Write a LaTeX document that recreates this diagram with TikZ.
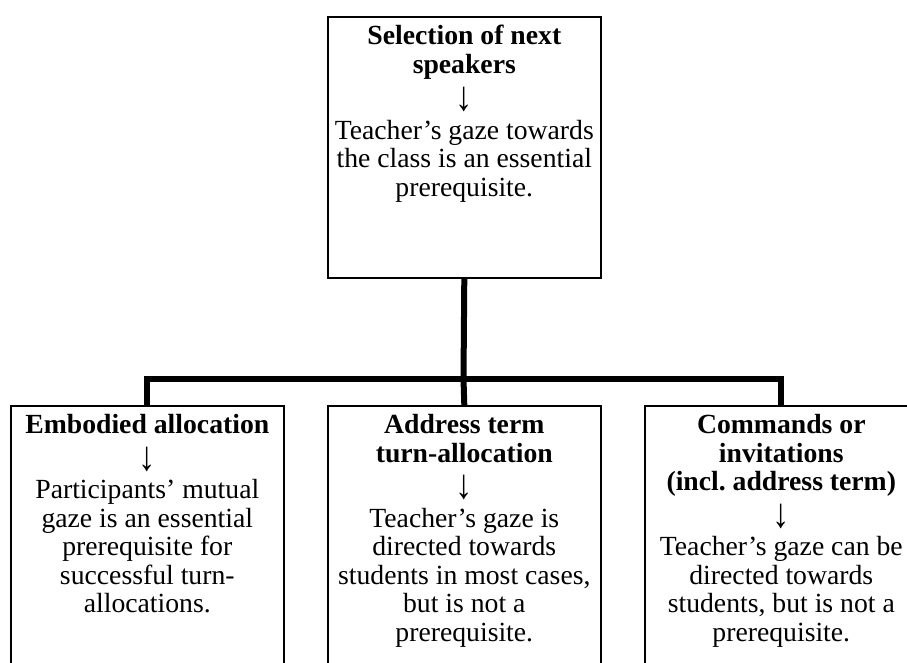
\documentclass[tikz,border=0pt]{standalone}
\usepackage{fontspec}
\setmainfont{Liberation Serif}
\frenchspacing
\newcommand{\downarr}{\raisebox{0pt}[0pt][0pt]{\scalebox{1.25}[1.5]{↓}}}
\begin{document}
\begin{tikzpicture}[x=1pt,y=-1pt,
  box/.style={draw=black, line width=1.6pt, fill=white, minimum width=273pt, inner sep=0pt, anchor=north west},
  txt/.style={align=center, inner sep=0pt, anchor=north, font=\fontsize{27.7}{28.5}\selectfont},
  conn/.style={draw=black, line width=6pt, line join=miter}]
\useasboundingbox (0,0) rectangle (907,662);
\clip (0,0) rectangle (907,662);
\fill[white] (0,0) rectangle (907,662);
% boxes
\node[box, minimum height=261pt] (top) at (327,16) {};
\node[box, minimum height=280pt] (b1) at (10,405) {};
\node[box, minimum height=280pt] (b2) at (327,405) {};
\node[box, minimum height=280pt] (b3) at (644,405) {};
% connectors
\coordinate (hub) at (463.5,379);
\draw[conn] (top.south) -- (hub);
\draw[conn] (b1.north) |- (hub) -| (b3.north);
\draw[conn] (hub) -- (b2.north);
% texts
\node[txt] (t0) at ([yshift=-8.4pt]top.north) {\strut\textbf{Selection of next}\\\textbf{speakers}\\[9pt]\downarr\\Teacher’s gaze towards\\the class is an essential\\prerequisite.};
\node[txt] (t1) at ([yshift=-8.4pt]b1.north) {\strut\textbf{Embodied allocation}\\[8pt]\downarr\\Participants’ mutual\\gaze is an essential\\prerequisite for\\successful turn-\\allocations.};
\node[txt] (t2) at ([yshift=-8.4pt]b2.north) {\strut\textbf{Address term}\\\textbf{turn-allocation}\\[8pt]\downarr\\Teacher’s gaze is\\directed towards\\students in most cases,\\but is not a\\prerequisite.};
\node[txt] (t3) at ([yshift=-8.4pt]b3.north) {\strut\textbf{Commands or}\\\textbf{invitations}\\\textbf{(incl. address term)}\\[8pt]\downarr\\Teacher’s gaze can be\\directed towards\\students, but is not a\\prerequisite.};
\end{tikzpicture}
\end{document}
